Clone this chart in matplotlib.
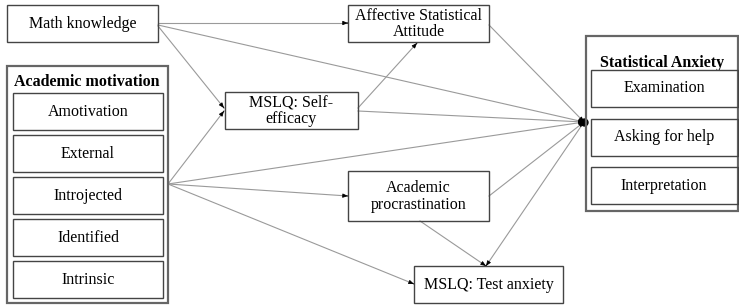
import matplotlib.pyplot as plt
from matplotlib.patches import Rectangle

# path model: labels and edges
motivation_title = 'Academic motivation'
motivation_items = ['Amotivation', 'External', 'Introjected', 'Identified', 'Intrinsic']
anxiety_title = 'Statistical Anxiety'
anxiety_items = ['Examination', 'Asking for help', 'Interpretation']
single_nodes = ['Math knowledge', 'Affective Statistical\nAttitude', 'MSLQ: Self-\nefficacy',
                'Academic\nprocrastination', 'MSLQ: Test anxiety']
edges = [
    ('Math knowledge', 'Affective Statistical\nAttitude'),
    ('Math knowledge', 'MSLQ: Self-\nefficacy'),
    ('Math knowledge', anxiety_title),
    (motivation_title, 'MSLQ: Self-\nefficacy'),
    (motivation_title, anxiety_title),
    (motivation_title, 'Academic\nprocrastination'),
    (motivation_title, 'MSLQ: Test anxiety'),
    ('MSLQ: Self-\nefficacy', 'Affective Statistical\nAttitude'),
    ('MSLQ: Self-\nefficacy', anxiety_title),
    ('Affective Statistical\nAttitude', anxiety_title),
    ('Academic\nprocrastination', anxiety_title),
    ('Academic\nprocrastination', 'MSLQ: Test anxiety'),
    (anxiety_title, 'MSLQ: Test anxiety'),
]

# layout in pixel coords (x0, y0, x1, y1)
boxes = {
    'Math knowledge': (7, 5, 158, 42),
    'Affective Statistical\nAttitude': (348, 5, 489, 42),
    'MSLQ: Self-\nefficacy': (225, 92, 358, 129),
    'Academic\nprocrastination': (348, 171, 489, 221),
    'MSLQ: Test anxiety': (414, 266, 563, 303),
}
# start / end anchor points per edge
anchors = {
    ('Math knowledge', 'Affective Statistical\nAttitude'): ((158, 23), (348, 23)),
    ('Math knowledge', 'MSLQ: Self-\nefficacy'): ((158, 26), (224, 108)),
    ('Math knowledge', anxiety_title): ((158, 25), (584, 122)),
    (motivation_title, 'MSLQ: Self-\nefficacy'): ((168, 184), (224, 111)),
    (motivation_title, anxiety_title): ((168, 184), (584, 122)),
    (motivation_title, 'Academic\nprocrastination'): ((168, 184), (348, 196)),
    (motivation_title, 'MSLQ: Test anxiety'): ((168, 184), (414, 284)),
    ('MSLQ: Self-\nefficacy', 'Affective Statistical\nAttitude'): ((358, 108), (417, 43)),
    ('MSLQ: Self-\nefficacy', anxiety_title): ((358, 111), (584, 122)),
    ('Affective Statistical\nAttitude', anxiety_title): ((489, 25), (584, 122)),
    ('Academic\nprocrastination', anxiety_title): ((489, 196), (584, 122)),
    ('Academic\nprocrastination', 'MSLQ: Test anxiety'): ((420, 221), (486, 266)),
    (anxiety_title, 'MSLQ: Test anxiety'): ((584, 122), (486, 266)),
}

plt.rcParams['font.family'] = ['Liberation Serif', 'DejaVu Serif']
fig = plt.figure(figsize=(7.39, 3.05), dpi=100)
ax = fig.add_axes([0, 0, 1, 1])
ax.set_xlim(0, 739)
ax.set_ylim(305, 0)
ax.axis('off')

fs = 11.5
line_col = '#9a9a9a'
box_col = '#444444'


def box(x0, y0, x1, y1, lw=1.0, col=box_col):
    ax.add_patch(Rectangle((x0, y0), x1 - x0, y1 - y0, fill=False, ec=col, lw=lw, zorder=3))


for e in edges:
    (xa, ya), (xb, yb) = anchors[e]
    ax.plot([xa, xb], [ya, yb], color=line_col, lw=0.8, zorder=1)
    # small black arrow head at the target
    ax.annotate('', xy=(xb, yb), xytext=(xb - (xb - xa) * 0.001, yb - (yb - ya) * 0.001),
                arrowprops=dict(arrowstyle='-|>,head_length=0.3,head_width=0.12',
                                color='black', lw=0.6, shrinkA=0, shrinkB=0), zorder=2)
ax.plot([584], [122], 'o', ms=5, color='black', zorder=2)

for name in single_nodes:
    x0, y0, x1, y1 = boxes[name]
    box(x0, y0, x1, y1)
    ax.text((x0 + x1) / 2, (y0 + y1) / 2 + 0.5, name, ha='center', va='center', fontsize=fs,
            linespacing=1.08, zorder=4)

# academic motivation group
box(7, 66, 168, 303, lw=1.6, col='#666666')
ax.text(87, 82, motivation_title, ha='center', va='center', fontsize=fs, fontweight='bold')
for i, item in enumerate(motivation_items):
    y0 = 93 + i * 42
    box(13, y0, 163, y0 + 37)
    ax.text(88, y0 + 18.5, item, ha='center', va='center', fontsize=fs)

# statistical anxiety group
box(586, 36, 738, 211, lw=1.6, col='#666666')
ax.text(662, 63, anxiety_title, ha='center', va='center', fontsize=fs, fontweight='bold')
for i, item in enumerate(anxiety_items):
    y0 = 70 + i * 48.5
    box(591, y0, 738, y0 + 37)
    ax.text(664, y0 + 18.5, item, ha='center', va='center', fontsize=fs)

fig.savefig('out.png', dpi=100)
